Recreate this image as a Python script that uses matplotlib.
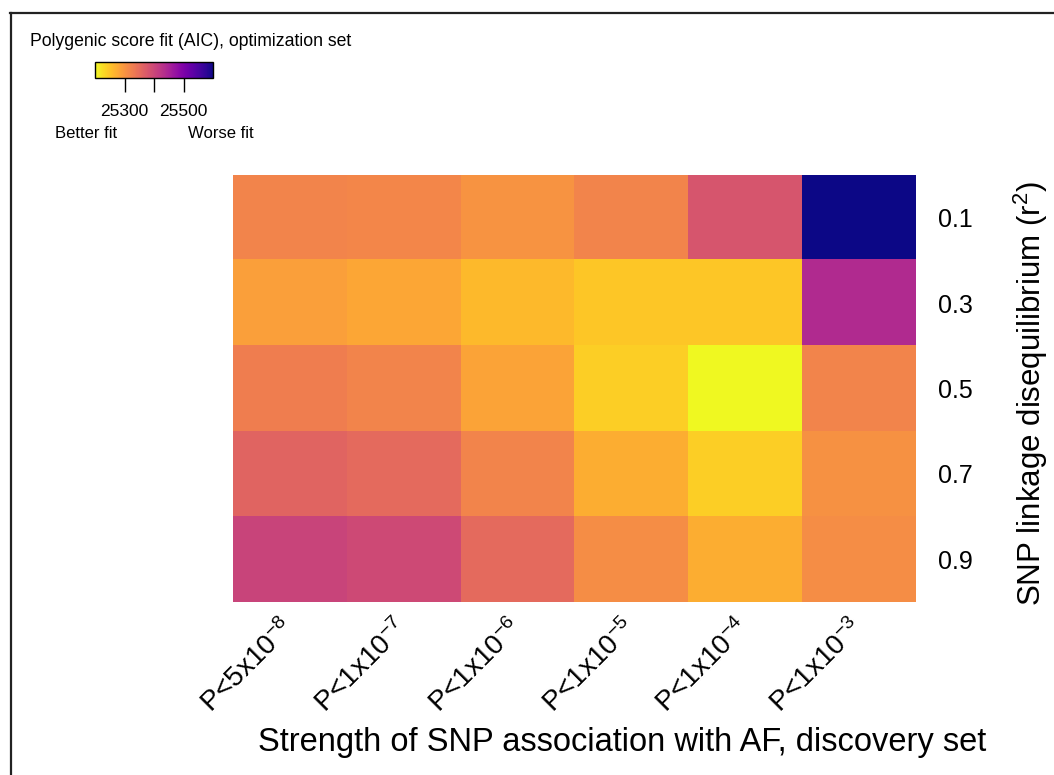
import numpy as np
import matplotlib
matplotlib.use("Agg")
import matplotlib.pyplot as plt
from matplotlib.lines import Line2D

plt.rcParams["font.family"] = ["Liberation Sans", "DejaVu Sans"]
plt.rcParams["mathtext.fontset"] = "custom"
plt.rcParams["mathtext.rm"] = "Liberation Sans"
plt.rcParams["mathtext.it"] = "Liberation Sans:italic"

# Limiares de P (colunas) e r2 (linhas)
p_labels = [r"P<5x10$^{-8}$", r"P<1x10$^{-7}$", r"P<1x10$^{-6}$",
            r"P<1x10$^{-5}$", r"P<1x10$^{-4}$", r"P<1x10$^{-3}$"]
r2_labels = ["0.1", "0.3", "0.5", "0.7", "0.9"]

# AIC (linhas = r2, colunas = P)
aic_r01 = [25320, 25316, 25300, 25320, 25380, 25600]
aic_r03 = [25288, 25280, 25260, 25248, 25248, 25440]
aic_r05 = [25328, 25320, 25284, 25240, 25200, 25320]
aic_r07 = [25360, 25352, 25320, 25272, 25240, 25304]
aic_r09 = [25404, 25396, 25352, 25308, 25272, 25308]
aic = np.array([aic_r01, aic_r03, aic_r05, aic_r07, aic_r09])

cbar_ticks = [25300, 25400, 25500]
cbar_ticklabels = ["25300", "", "25500"]

fig = plt.figure(figsize=(10.54, 7.75), dpi=100)
W, H = 1054, 775

#Heatmap
ax = fig.add_axes([233 / W, 1 - 602 / H, 683 / W, 427 / H])
im = ax.imshow(aic, cmap="plasma_r", aspect="auto",
               vmin=aic.min(), vmax=aic.max(), interpolation="nearest")
ax.set_xticks(range(len(p_labels)))
ax.set_xticklabels(p_labels, rotation=45, ha="right", va="center",
                   rotation_mode="anchor", fontsize=20)
ax.set_yticks(range(len(r2_labels)))
ax.set_yticklabels(r2_labels, fontsize=18)
ax.yaxis.tick_right()
ax.yaxis.set_label_position("right")
ax.tick_params(axis="both", length=0)
ax.tick_params(axis="x", pad=16)
ax.tick_params(axis="y", pad=16)
for s in ax.spines.values():
    s.set_visible(False)
ax.set_ylabel(r"SNP linkage disequilibrium (r$^2$)", fontsize=22.5,
              rotation=90, va="center", ha="center")
ax.yaxis.set_label_coords((1031 - 233) / 683, (602 - 393) / 427)
ax.set_xlabel("Strength of SNP association with AF, discovery set", fontsize=23.5,
              va="center", ha="center")
ax.xaxis.set_label_coords((622 - 233) / 683, (602 - 743) / 427)

#Legenda de cor
cax = fig.add_axes([95 / W, 1 - 78 / H, 118 / W, 16 / H])
cb = fig.colorbar(im, cax=cax, orientation="horizontal", ticks=cbar_ticks)
cb.ax.set_xticklabels(cbar_ticklabels)
cb.ax.tick_params(length=10, width=1, pad=9, labelsize=12.5)
cb.outline.set_linewidth(1)
fig.text(30 / W, 1 - 41 / H, "Polygenic score fit (AIC), optimization set",
         fontsize=12.7, va="center", ha="left")
fig.text(86 / W, 1 - 133 / H, "Better fit", fontsize=12, va="center", ha="center")
fig.text(221 / W, 1 - 133 / H, "Worse fit", fontsize=12, va="center", ha="center")

#Moldura
fig.add_artist(Line2D([10.5 / W, 10.5 / W], [0, 1 - 12.5 / H], color="#222222",
                      lw=1.6, transform=fig.transFigure))
fig.add_artist(Line2D([10 / W, 1053 / W], [1 - 12.5 / H, 1 - 12.5 / H],
                      color="#222222", lw=1.6, transform=fig.transFigure))

fig.savefig("out.png", dpi=100)
